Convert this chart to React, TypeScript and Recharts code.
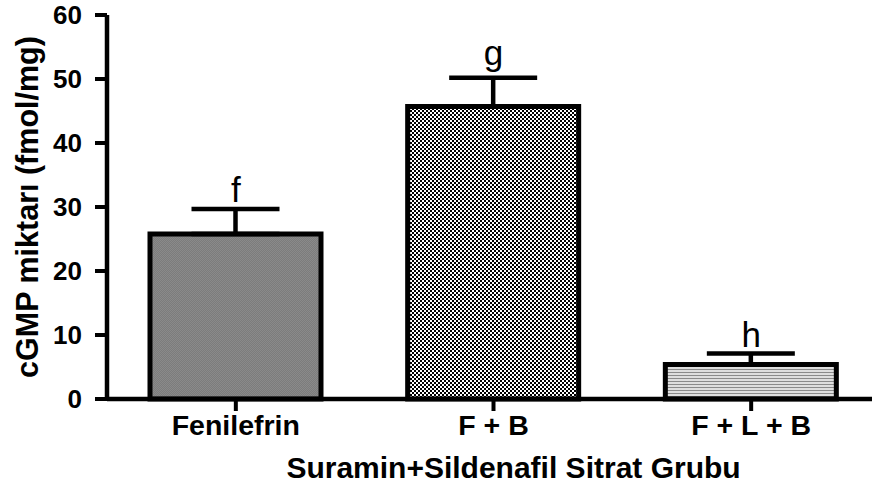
import React from "react";
import {
  ComposedChart,
  Bar,
  Cell,
  Line,
  ErrorBar,
  LabelList,
  Label,
  XAxis,
  YAxis,
} from "recharts";

const groups = ["Fenilefrin", "F + B", "F + L + B"];
const means = [25.8, 45.7, 5.4];
const sds = [3.9, 4.5, 1.7];
const letters = ["f", "g", "h"];
const yTicks = [0, 10, 20, 30, 40, 50, 60];

const fills = ["url(#grain)", "url(#checker)", "url(#stripes)"];

const data = groups.map((name, i) => ({
  name,
  mean: means[i],
  err: [0, sds[i]],
  top: means[i] + sds[i],
  letter: letters[i],
}));

const font = "'Liberation Sans', Arial, Helvetica, sans-serif";

function YTitle({ viewBox }: any) {
  const cx = viewBox.x + 27;
  const cy = viewBox.y + viewBox.height / 2;
  return (
    <text
      x={cx}
      y={cy}
      transform={`rotate(-90, ${cx}, ${cy})`}
      textAnchor="middle"
      dominantBaseline="central"
      fontFamily={font}
      fontWeight="bold"
      fontSize={30.5}
      fill="#000"
    >
      cGMP miktarı (fmol/mg)
    </text>
  );
}

// significance letter above each cap; letters with a descender sit a bit higher
function GroupLetter({ x, y, value }: any) {
  const lift = /[gjpqy]/.test(String(value)) ? 13 : 7;
  return (
    <text
      x={x}
      y={y - lift}
      textAnchor="middle"
      fontFamily={font}
      fontSize={35}
      fill="#000"
    >
      {value}
    </text>
  );
}

export default function App() {
  return (
    <div
      style={{
        position: "absolute",
        left: 0,
        top: 0,
        width: 872,
        height: 486,
        overflow: "hidden",
        background: "#fff",
      }}
    >
      <ComposedChart
        width={890}
        height={486}
        data={data}
        margin={{ top: 15, right: 10, bottom: 8, left: 0 }}
      >
        <defs>
          <pattern id="grain" width="2" height="2" patternUnits="userSpaceOnUse">
            <rect width="2" height="2" fill="#7c7c7c" />
            <rect width="1" height="1" fill="#8a8a8a" />
            <rect x="1" y="1" width="1" height="1" fill="#8a8a8a" />
          </pattern>
          <pattern id="checker" width="4" height="4" patternUnits="userSpaceOnUse">
            <rect width="4" height="4" fill="#fff" />
            <rect width="2" height="2" fill="#000" />
            <rect x="2" y="2" width="2" height="2" fill="#000" />
          </pattern>
          <pattern id="stripes" width="4" height="3" patternUnits="userSpaceOnUse">
            <rect width="4" height="3" fill="#dedede" />
            <rect width="4" height="1" fill="#8a8a8a" />
          </pattern>
        </defs>
        <XAxis
          dataKey="name"
          height={79}
          axisLine={{ stroke: "#000", strokeWidth: 4.5 }}
          tickLine={{ stroke: "#000", strokeWidth: 4 }}
          tickSize={12}
          tickMargin={4}
          tick={{ fill: "#000", fontSize: 28.5, fontWeight: "bold", fontFamily: font }}
        >
          <Label
            value="Suramin+Sildenafil Sitrat Grubu"
            position="insideBottom"
            offset={0}
            dx={20}
            fill="#000"
            fontSize={30}
            fontWeight="bold"
            fontFamily={font}
          />
        </XAxis>
        <YAxis
          width={107}
          domain={[0, 60]}
          ticks={yTicks}
          interval={0}
          axisLine={{ stroke: "#000", strokeWidth: 4.5 }}
          tickLine={{ stroke: "#000", strokeWidth: 4 }}
          tickSize={12}
          tickMargin={13}
          tick={{ fill: "#000", fontSize: 26, fontWeight: "bold", fontFamily: font }}
        >
          <Label content={YTitle} />
        </YAxis>
        <Bar
          dataKey="mean"
          barSize={171}
          stroke="#000"
          strokeWidth={5}
          isAnimationActive={false}
        >
          {data.map((d, i) => (
            <Cell key={d.name} fill={fills[i]} />
          ))}
          <ErrorBar
            dataKey="err"
            direction="y"
            width={44}
            stroke="#000"
            strokeWidth={4.5}
            isAnimationActive={false}
          />
        </Bar>
        <Line
          dataKey="top"
          stroke="none"
          dot={false}
          activeDot={false}
          isAnimationActive={false}
        >
          <LabelList dataKey="letter" content={GroupLetter} />
        </Line>
      </ComposedChart>
    </div>
  );
}
